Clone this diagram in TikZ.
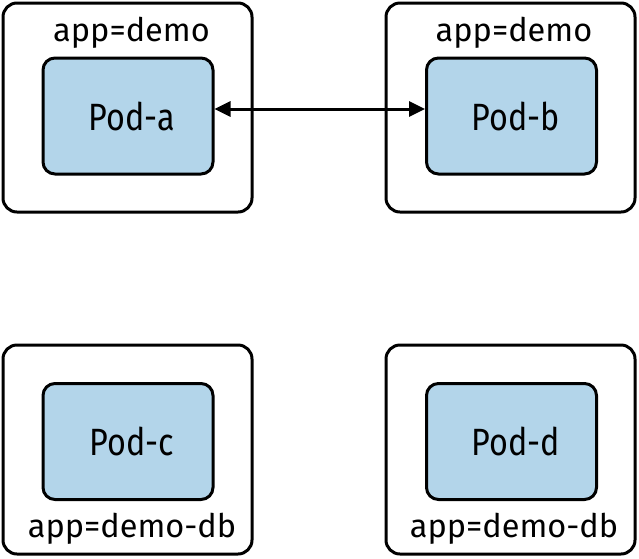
\documentclass[tikz,border=0pt]{standalone}
\usepackage{fontspec}
\setmainfont{Fira Sans}
\newfontfamily\podfont{Fira Sans}[FakeStretch=0.85]
\usepackage{xcolor}
\definecolor{PodBlue}{RGB}{179,213,234}
\definecolor{Black}{RGB}{0,0,0}
\definecolor{White}{RGB}{255,255,255}
\usetikzlibrary{arrows.meta}

\tikzset{
	group/.style={draw=Black, fill=White, line width=3pt, rounded corners=14pt, minimum width=249pt, minimum height=209pt},
	pod/.style={draw=Black, fill=PodBlue, line width=3pt, rounded corners=12pt, minimum width=170pt, minimum height=116pt, font=\podfont\fontsize{38}{38}\selectfont, execute at begin node=\hspace*{8pt}},
	lbl/.style={font=\fontsize{32.5}{32.5}\selectfont, inner sep=0pt}
}

\begin{document}
\begin{tikzpicture}[x=1pt, y=-1pt]
		\useasboundingbox (0,0) rectangle (639,558);
		
		% Groups
		\node[group] (grpA) at (127.5,107.5) {};
		\node[group] (grpB) at (510.5,107.5) {};
		\node[group] (grpC) at (127.5,449.5) {};
		\node[group] (grpD) at (510.5,449.5) {};
		
		% Pods
		\node[pod] (podA) at (128,116) {Pod-a};
		\node[pod] (podB) at (511.5,116) {Pod-b};
		\node[pod] (podC) at (128,441.5) {Pod-c};
		\node[pod] (podD) at (511.5,441.5) {Pod-d};
		
		% Labels
		\node[lbl] (lblA) at (131.5,33) {app=demo};
		\node[lbl] (lblB) at (514,33) {app=demo};
		\node[lbl] (lblC) at (132,529) {app=demo-db};
		\node[lbl] (lblD) at (514,529) {app=demo-db};
		
		% Lines
		\draw[{Triangle[length=16pt,width=15pt]}-{Triangle[length=16pt,width=15pt]}, line width=3pt] ([yshift=7pt]podA.east) -- ([yshift=7pt]podB.west);
		
	\end{tikzpicture}
\end{document}
